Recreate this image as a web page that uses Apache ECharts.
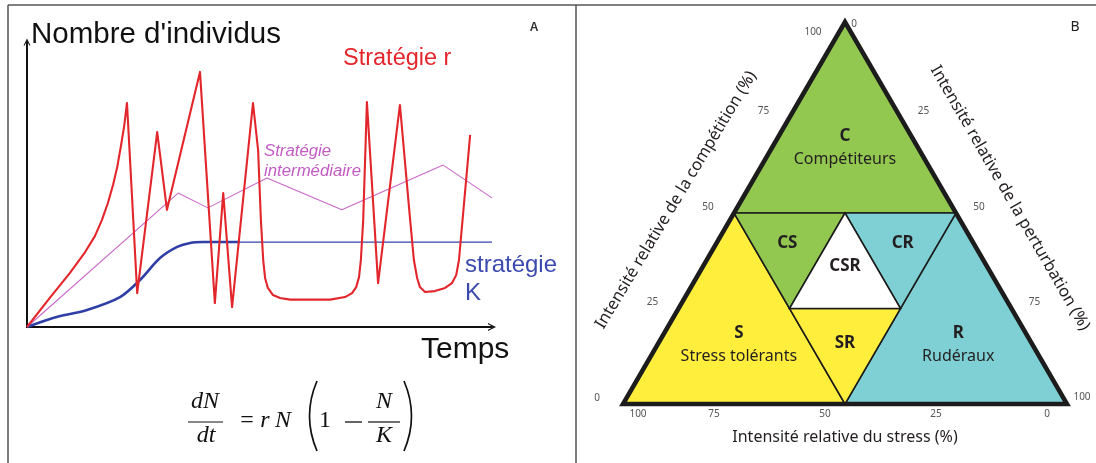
<!DOCTYPE html>
<html><head><meta charset="utf-8">
<script src="https://cdn.jsdelivr.net/npm/echarts@6/dist/echarts.min.js"></script>
<style>html,body{margin:0;padding:0;background:#fff}#c{width:1096px;height:463px}</style>
</head><body><div id="c"></div>
<script>
// ---------- Panel A : population dynamics (arbitrary units, x = time, y = individuals) ----------
const rStrategy = [[0,0],[4.9,10.2],[9.2,18.9],[12.5,26.3],[14.6,31.9],[16.1,37.5],[17.4,43.5],[18.5,49.8],[19.4,56.1],[20.2,63.5],[20.9,70.5],[21.5,78.6],
  [23.7,11.9],[28.0,68.4],[30.1,41.1],[37.2,89.5],[40.4,8.4],[42.2,47.0],[44.1,7.0],[48.6,78.6],
  [49.7,62.1],[50.3,37.5],[50.8,23.5],[51.2,17.2],[51.8,13.7],[52.9,11.2],[54.4,10.2],[56.6,9.6],[65.2,9.6],[68.4,10.5],[69.9,11.9],[70.8,14.0],[71.4,17.5],[71.8,23.5],[72.3,37.5],[73.1,78.9],
  [75.5,15.4],[80.2,77.9],[82.4,37.5],[83.2,23.5],[83.9,17.2],[84.5,14.0],[85.6,12.3],[87.7,12.6],[89.9,13.7],[91.4,15.4],[92.3,18.2],[92.9,23.5],[95.3,67.4]];
const intermediateStrategy = [[0,0],[32.5,47.0],[38.9,41.8],[51.6,52.3],[67.7,41.1],[89.5,56.8],[100,45.3]];
const kStrategyGrowth = [[0,0],[5.6,3.2],[12.9,6.0],[20.0,10.5],[24.3,16.5],[28.6,24.2],[32.3,28.1],[35.1,29.5],[37.8,29.8],[45.8,29.8]];
const kStrategyPlateau = [[45.8,29.8],[100,29.8]];

// ---------- Panel B : Grime CSR triangle (ternary: [competition, stress, disturbance]) ----------
const zoneNames = ['C','S','R','CS','CR','SR','CSR'];
const zoneSubtitles = ['Compétiteurs','Stress tolérants','Rudéraux','','','',''];
const zoneVertices = [
  [[100,0,0],[50,50,0],[50,0,50]],
  [[0,100,0],[50,50,0],[0,50,50]],
  [[0,0,100],[50,0,50],[0,50,50]],
  [[50,50,0],[50,25,25],[25,50,25]],
  [[50,0,50],[50,25,25],[25,25,50]],
  [[0,50,50],[25,50,25],[25,25,50]],
  [[50,25,25],[25,50,25],[25,25,50]]
];
const zoneLabelAt = [[70,15,15],[18.6,64.6,16.8],[18.6,15.2,66.2],[42,42,16],[42,16,42],[16,42,42],[36,32,32]];
const tickValues = [0,25,50,75,100];
const axisTitles = ['Intensité relative de la compétition (%)','Intensité relative de la perturbation (%)','Intensité relative du stress (%)'];

// ---------- styles ----------
const zoneColors = {C:'#92C850',S:'#FFEF3C',R:'#7ED0D4',CS:'#92C850',CR:'#7ED0D4',SR:'#FFEF3C',CSR:'#FFFFFF'};
const H = Math.sqrt(3)/2;
const tri = (c,s,r) => [r + c/2, c*H];

const zoneData = zoneVertices.map(v => v.flatMap(p => tri(p[0],p[1],p[2])));
const labelData = zoneLabelAt.map(p => tri(p[0],p[1],p[2]));
// tick data: [x, y, value, axis]  axis 0 = competition (left), 1 = disturbance (right), 2 = stress (bottom)
const tickData = [];
tickValues.forEach(v => {
  tickData.push([...tri(v,100-v,0), v, 0]);
  tickData.push([...tri(100-v,0,v), v, 1]);
  tickData.push([...tri(0,v,100-v), v, 2]);
});
const outline = [tri(100,0,0), tri(0,100,0), tri(0,0,100)];

function tickOffset(axis, v){
  if(axis===0) return v===100 ? [-32,10] : [-26,-6];
  if(axis===1) return v===0 ? [9,2] : (v===100 ? [15,-7] : [23,-6]);
  return v===100 ? [15,10] : [-20,10];
}

const SANS_A = '"Liberation Sans", Arial, sans-serif';
const SANS_B = '"Noto Sans", "Open Sans", sans-serif';
const SERIF = '"Liberation Serif", "DejaVu Serif", serif';

function txt(x,y,text,font,fill,align,rot){
  return {type:'text', x:x, y:y, rotation: rot||0, silent:true, z:10,
    style:{text:text, font:font, fill:fill, align:align||'left', textAlign:align||'left', verticalAlign:'middle', textVerticalAlign:'middle'}};
}
function hline(x1,x2,y,w,c){ return {type:'line', silent:true, shape:{x1:x1,y1:y,x2:x2,y2:y}, style:{stroke:c||'#111', lineWidth:w||1.2}}; }
function paren(x,cx){ return {type:'bezierCurve', silent:true, shape:{x1:x,y1:381,x2:x,y2:451,cpx1:cx,cpy1:416}, style:{stroke:'#111', lineWidth:1.7, fill:'none'}}; }

const arrowPath = 'path://M0,10 L5,0 L10,10 L8.4,10 L5,3.2 L1.6,10 Z';
const FM = 'italic 24px '+SERIF, FU = '24px '+SERIF;

const option = {
  animation:false,
  backgroundColor:'#fff',
  grid:[
    {left:27, top:42, width:465, height:285, containLabel:false},
    {left:623, top:22, width:444, height:382, containLabel:false}
  ],
  xAxis:[
    {gridIndex:0, type:'value', min:0, max:100, axisLine:{show:true, symbol:['none',arrowPath], symbolSize:[11,8], lineStyle:{color:'#111', width:2.2}}, axisTick:{show:false}, axisLabel:{show:false}, splitLine:{show:false}},
    {gridIndex:1, type:'value', min:0, max:100, show:false}
  ],
  yAxis:[
    {gridIndex:0, type:'value', min:0, max:100, axisLine:{show:true, symbol:['none',arrowPath], symbolSize:[9,7], lineStyle:{color:'#111', width:2}}, axisTick:{show:false}, axisLabel:{show:false}, splitLine:{show:false}},
    {gridIndex:1, type:'value', min:0, max:100*H, show:false}
  ],
  series:[
    {type:'line', xAxisIndex:0, yAxisIndex:0, data:intermediateStrategy, showSymbol:false, clip:false, lineStyle:{color:'#C968C9', width:1.1}, z:2},
    {type:'line', xAxisIndex:0, yAxisIndex:0, data:kStrategyGrowth, showSymbol:false, clip:false, smooth:0.3, lineStyle:{color:'#2F3FA6', width:2.6}, z:3},
    {type:'line', xAxisIndex:0, yAxisIndex:0, data:kStrategyPlateau, showSymbol:false, clip:false, lineStyle:{color:'#3343AE', width:1.3}, z:3},
    {type:'line', xAxisIndex:0, yAxisIndex:0, data:rStrategy, showSymbol:false, clip:false, lineStyle:{color:'#E3262B', width:2.1, join:'round'}, z:4},
    {type:'custom', xAxisIndex:1, yAxisIndex:1, data:zoneData, encode:{x:[0,2,4], y:[1,3,5]}, clip:false, z:2,
      renderItem:(params, api) => {
        const pts = [0,1,2].map(k => api.coord([api.value(2*k), api.value(2*k+1)]));
        return {type:'polygon', shape:{points:pts}, style:{fill:zoneColors[zoneNames[params.dataIndex]], stroke:'#1c1c1c', lineWidth:1.5, lineJoin:'miter'}};
      }},
    {type:'custom', xAxisIndex:1, yAxisIndex:1, data:[outline.flat()], encode:{x:[0,2,4], y:[1,3,5]}, clip:false, z:3,
      renderItem:(params, api) => {
        const pts = [0,1,2].map(k => api.coord([api.value(2*k), api.value(2*k+1)]));
        return {type:'polygon', shape:{points:pts}, style:{fill:'none', stroke:'#1c1c1c', lineWidth:4.5, lineJoin:'miter'}};
      }},
    {type:'custom', xAxisIndex:1, yAxisIndex:1, data:labelData, clip:false, z:4,
      renderItem:(params, api) => {
        const p = api.coord([api.value(0), api.value(1)]);
        const i = params.dataIndex;
        const children = [{type:'text', x:p[0], y:p[1], style:{text:zoneNames[i], font:'bold 17px '+SANS_B, fill:'#231F20', align:'center', textAlign:'center', verticalAlign:'middle', textVerticalAlign:'middle'}}];
        if(zoneSubtitles[i]) children.push({type:'text', x:p[0], y:p[1]+23, style:{text:zoneSubtitles[i], font:'16px '+SANS_B, fill:'#231F20', align:'center', textAlign:'center', verticalAlign:'middle', textVerticalAlign:'middle'}});
        return {type:'group', children:children};
      }},
    {type:'custom', xAxisIndex:1, yAxisIndex:1, data:tickData, clip:false, z:4,
      renderItem:(params, api) => {
        const p = api.coord([api.value(0), api.value(1)]);
        const v = api.value(2), a = api.value(3);
        const o = tickOffset(a, v);
        return {type:'text', x:p[0]+o[0], y:p[1]+o[1], style:{text:String(v), font:'10px '+SANS_B, fill:'#555', align:'center', textAlign:'center', verticalAlign:'middle', textVerticalAlign:'middle'}};
      }}
  ],
  graphic:{elements:[
    {type:'line', silent:true, shape:{x1:8,y1:5,x2:1096,y2:5}, style:{stroke:'#555', lineWidth:1.5}},
    {type:'line', silent:true, shape:{x1:8,y1:5,x2:8,y2:463}, style:{stroke:'#555', lineWidth:1.5}},
    {type:'line', silent:true, shape:{x1:576,y1:5,x2:576,y2:463}, style:{stroke:'#555', lineWidth:1.5}},
    txt(31,35,"Nombre d'individus",'29.5px '+SANS_A,'#111'),
    txt(534,28,'A','bold 12px '+SANS_A,'#333','center'),
    txt(343,59,'Stratégie r','23.5px '+SANS_A,'#E3262B'),
    txt(264,151,'Stratégie','italic 16.8px '+SANS_A,'#C35BC4'),
    txt(264,171,'intermédiaire','italic 16.8px '+SANS_A,'#C35BC4'),
    txt(465,265,'stratégie','24px '+SANS_A,'#3A4AAE'),
    txt(465,293,'K','24px '+SANS_A,'#3A4AAE'),
    txt(421,350,'Temps','30px '+SANS_A,'#111'),
    txt(205,402,'dN',FM,'#111','center'),
    hline(188,223,422,1.2),
    txt(206,436,'dt',FM,'#111','center'),
    txt(247,421,'=',FU,'#111','center'),
    txt(265,421,'r',FM,'#111','center'),
    txt(283,421,'N',FM,'#111','center'),
    paren(317,302),
    txt(325,421,'1',FU,'#111','center'),
    hline(345,362,422,1.3),
    txt(384,402,'N',FM,'#111','center'),
    hline(368,400,422,1.2),
    txt(384,436,'K',FM,'#111','center'),
    paren(404,419),
    txt(1075,27,'B','14px '+SANS_B,'#222','center'),
    txt(676,200,axisTitles[0],'16.5px '+SANS_B,'#231F20','center', 59*Math.PI/180),
    txt(1010,198,axisTitles[1],'16.5px '+SANS_B,'#231F20','center', -60*Math.PI/180),
    txt(845,437,axisTitles[2],'16px '+SANS_B,'#231F20','center')
  ]}
};
const chart = echarts.init(document.getElementById('c'), null, {renderer:'canvas'});
chart.setOption(option);
</script></body></html>
